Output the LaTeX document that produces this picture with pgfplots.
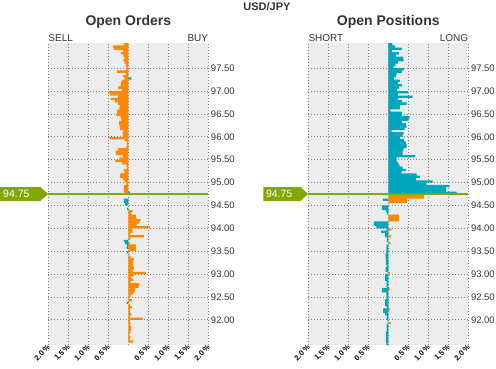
\documentclass[border=0pt]{standalone}
\usepackage{fontspec}
\setmainfont{Liberation Sans}
\usepackage{pgfplots}
\pgfplotsset{compat=1.18}
\definecolor{orangeC}{RGB}{255,137,0}
\definecolor{tealC}{RGB}{0,166,190}
\definecolor{pgreen}{RGB}{128,168,0}
\definecolor{bgC}{RGB}{236,236,236}
\definecolor{txt}{RGB}{51,51,51}
\definecolor{gridC}{RGB}{130,130,130}
\pgfplotsset{
 bookstyle/.style={
  scale only axis, width=160pt, height=302pt,
  xmin=-2, xmax=2, ymin=91.45, ymax=98.05,
  axis background/.style={fill=bgC},
  axis line style={draw=none},
  major tick length=0pt,
  xtick={-2,-1.5,-1,-0.5,0,0.5,1,1.5,2},
  xticklabels={2.0\,\%,1.5\,\%,1.0\,\%,0.5\,\%,,0.5\,\%,1.0\,\%,1.5\,\%,2.0\,\%},
  ytick={92,92.5,93,93.5,94,94.5,95,95.5,96,96.5,97,97.5},
  yticklabels={92.00,92.50,93.00,93.50,94.00,94.50,95.00,95.50,96.00,96.50,97.00,97.50},
  yticklabel pos=right,
  grid=major,
  major grid style={gridC, line width=0.7pt, dash pattern=on 0.8pt off 2.2pt},
  xticklabel style={rotate=45, anchor=east, font=\bfseries\fontsize{7.5}{8}\selectfont, text=black, inner sep=0.5pt, yshift=-1pt},
  yticklabel style={font=\fontsize{9.5}{11}\selectfont, text=txt, anchor=west, inner sep=0pt, xshift=2.5pt},
  clip=false,
 },
 obar/.style={xbar, bar shift=0pt, bar width=0.05, fill=orangeC, draw=none},
 tbar/.style={xbar, bar shift=0pt, bar width=0.05, fill=tealC, draw=none},
}
\begin{document}
\begin{tikzpicture}
\useasboundingbox (0,0) rectangle (496pt,368pt);
% ---------------- Open Orders ----------------
\begin{axis}[bookstyle, at={(48.3pt,23pt)}, anchor=south west]
\addplot[obar] coordinates {
(-0.11,98.025) (-0.38,97.975) (-0.36,97.925) (-0.13,97.875) (-0.18,97.825) (-0.12,97.775)
(-0.10,97.725) (-0.12,97.675) (-0.10,97.625) (-0.06,97.575) (-0.05,97.525) (-0.05,97.475)
(-0.28,97.425) (-0.06,97.375) (-0.13,97.325) (-0.09,97.275) (-0.16,97.225) (-0.18,97.175)
(-0.19,97.125) (-0.26,97.075) (-0.16,97.025) (-0.51,96.975) (-0.46,96.925) (-0.26,96.875)
(-0.44,96.825) (-0.33,96.775) (-0.26,96.725) (-0.21,96.675) (-0.22,96.625) (-0.28,96.575)
(-0.28,96.525) (-0.30,96.475) (-0.19,96.425) (-0.18,96.375) (-0.23,96.325) (-0.23,96.275)
(-0.21,96.225) (-0.21,96.175) (-0.13,96.125) (-0.14,96.075) (-0.13,96.025) (-0.47,95.975)
(-0.09,95.925) (-0.03,95.875) (-0.03,95.825) (-0.05,95.775) (-0.26,95.725) (-0.31,95.675)
(-0.31,95.625) (-0.13,95.575) (-0.22,95.525) (-0.32,95.475) (-0.16,95.425) (-0.05,95.375)
(-0.03,95.325) (-0.11,95.275) (-0.09,95.225) (-0.21,95.175) (-0.21,95.125) (-0.13,95.075)
(-0.09,95.025) (-0.05,94.975) (-0.11,94.925) (-0.11,94.875) (-0.11,94.825) (-0.10,94.775)
};
\addplot[obar] coordinates {
(0.11,94.375) (0.08,94.325) (0.19,94.275) (0.20,94.225) (0.31,94.175) (0.28,94.125)
(0.21,94.075) (0.54,94.025) (0.10,93.975) (0.11,93.925) (0.05,93.875) (0.39,93.825)
(0.05,93.775) (0.04,93.675) (0.19,93.625) (0.19,93.575) (0.19,93.525) (0.03,93.425)
(0.06,93.375) (0.14,93.325) (0.13,93.275) (0.12,93.225) (0.12,93.175) (0.14,93.125)
(0.11,93.075) (0.44,93.025) (0.14,92.975) (0.08,92.925) (0.12,92.875) (0.06,92.825)
(0.28,92.775) (0.26,92.725) (0.18,92.675) (0.16,92.625) (0.13,92.575) (0.06,92.525)
(0.03,92.475) (0.09,92.425) (0.04,92.325) (0.09,92.275) (0.04,92.225) (0.04,92.175)
(0.08,92.125) (0.04,92.075) (0.37,92.025) (0.04,91.975) (0.05,91.925) (0.05,91.875)
(0.08,91.825) (0.07,91.775) (0.05,91.725) (0.03,91.675) (0.05,91.625) (0.04,91.575)
(0.13,91.525)
};
\addplot[tbar] coordinates {(0.08,97.275) (0.04,94.775)};
\addplot[tbar] coordinates {
(-0.11,94.625) (-0.11,94.575) (-0.08,94.525) (-0.03,94.425) (-0.11,93.725) (-0.08,93.675)
(-0.03,93.625) (-0.04,93.575) (-0.03,93.475) (-0.04,92.375)
};
\addplot[pgreen, line width=1.4pt] coordinates {(-2,94.75) (2,94.75)};
\fill[pgreen] (axis cs:-2,94.75) -- ++(-8pt,7pt) -- ++(-40.3pt,0pt) -- ++(0pt,-14pt) -- ++(40.3pt,0pt) -- cycle;
\node[anchor=west, text=white, font=\fontsize{10.5}{12}\selectfont, inner sep=0pt] at ([xshift=-45.3pt]axis cs:-2,94.75) {94.75};
\node[anchor=south west, inner sep=0pt, text=txt, font=\fontsize{10}{12}\selectfont] at ([yshift=1.5pt]rel axis cs:0,1) {SELL};
\node[anchor=south east, inner sep=0pt, text=txt, font=\fontsize{10}{12}\selectfont] at ([yshift=1.5pt]rel axis cs:1,1) {BUY};
\node[font=\bfseries\fontsize{14}{16}\selectfont, text=txt] at ([yshift=21.5pt]rel axis cs:0.5,1) {Open Orders};
\end{axis}
% ---------------- Open Positions ----------------
\begin{axis}[bookstyle, at={(308.3pt,23pt)}, anchor=south west]
\addplot[tbar] coordinates {
(0.10,98.025) (0.17,97.975) (0.34,97.925) (0.09,97.875) (0.27,97.825) (0.19,97.775)
(0.37,97.725) (0.38,97.675) (0.24,97.625) (0.18,97.575) (0.13,97.525) (0.39,97.475)
(0.34,97.425) (0.21,97.375) (0.19,97.325) (0.14,97.275) (0.29,97.225) (0.24,97.175)
(0.34,97.125) (0.27,97.075) (0.22,97.025) (0.49,96.975) (0.24,96.925) (0.61,96.875)
(0.24,96.825) (0.34,96.775) (0.46,96.725) (0.29,96.675) (0.29,96.625) (0.05,96.575)
(0.34,96.525) (0.33,96.475) (0.53,96.425) (0.50,96.375) (0.34,96.325) (0.44,96.275)
(0.46,96.225) (0.41,96.175) (0.08,96.125) (0.38,96.075) (0.36,96.025) (0.29,95.975)
(0.39,95.925) (0.44,95.875) (0.46,95.825) (0.46,95.775) (0.38,95.725) (0.36,95.675)
(0.36,95.625) (0.67,95.575) (0.21,95.525) (0.21,95.475) (0.25,95.425) (0.28,95.375)
(0.36,95.325) (0.44,95.275) (0.33,95.225) (0.71,95.175) (0.79,95.125) (0.69,95.075)
(1.11,95.025) (0.95,94.975) (1.53,94.925) (1.44,94.875) (1.44,94.825) (1.71,94.775)
};
\addplot[tbar] coordinates {
(-0.14,94.625) (-0.16,94.475) (-0.16,94.425) (-0.06,94.375) (-0.03,94.325) (-0.36,94.125)
(-0.36,94.075) (-0.30,94.025) (-0.04,93.975) (-0.18,93.925) (-0.08,93.875) (-0.08,93.825)
(-0.03,93.775) (-0.03,93.725) (-0.04,93.625) (-0.05,93.575) (-0.05,93.525) (-0.05,93.475)
(-0.07,93.425) (-0.07,93.375) (-0.06,93.325) (-0.06,93.275) (-0.06,93.225) (-0.04,93.175)
(-0.07,93.125) (-0.07,93.075) (-0.02,93.025) (-0.08,92.975) (-0.08,92.925) (-0.08,92.875)
(-0.04,92.825) (-0.04,92.775) (-0.04,92.725) (-0.16,92.675) (-0.16,92.625) (-0.05,92.575)
(-0.05,92.525) (-0.04,92.475) (-0.08,92.425) (-0.08,92.375) (-0.08,92.325) (-0.04,92.275)
(-0.13,92.225) (-0.13,92.175) (-0.08,92.125) (-0.04,92.075) (-0.04,92.025) (-0.02,91.975)
(-0.02,91.925) (-0.04,91.875) (-0.04,91.825) (-0.04,91.775) (-0.06,91.725) (-0.06,91.675)
(-0.06,91.625) (-0.06,91.575) (-0.06,91.525) (-0.05,91.475)
};
\addplot[obar] coordinates {
(0.89,94.725) (0.89,94.675) (0.47,94.625) (0.47,94.575) (0.27,94.275) (0.27,94.225)
(0.27,94.175) (0.08,93.975) (0.07,93.825) (0.05,93.675) (0.04,93.025) (0.04,92.675)
(0.04,92.225) (0.06,91.925)
};
\addplot[pgreen, line width=1.4pt] coordinates {(-2,94.75) (2,94.75)};
\fill[pgreen] (axis cs:-2,94.75) -- ++(-8pt,7pt) -- ++(-37pt,0pt) -- ++(0pt,-14pt) -- ++(37pt,0pt) -- cycle;
\node[anchor=west, text=white, font=\fontsize{10.5}{12}\selectfont, inner sep=0pt] at ([xshift=-42.5pt]axis cs:-2,94.75) {94.75};
\node[anchor=south west, inner sep=0pt, text=txt, font=\fontsize{10}{12}\selectfont] at ([yshift=1.5pt]rel axis cs:0,1) {SHORT};
\node[anchor=south east, inner sep=0pt, text=txt, font=\fontsize{10}{12}\selectfont] at ([yshift=1.5pt]rel axis cs:1,1) {LONG};
\node[font=\bfseries\fontsize{14}{16}\selectfont, text=txt] at ([yshift=21.5pt]rel axis cs:0.5,1) {Open Positions};
\end{axis}
\node[font=\bfseries\fontsize{11}{13}\selectfont, text=txt] at (267pt,361pt) {USD/JPY};
\end{tikzpicture}
\end{document}
